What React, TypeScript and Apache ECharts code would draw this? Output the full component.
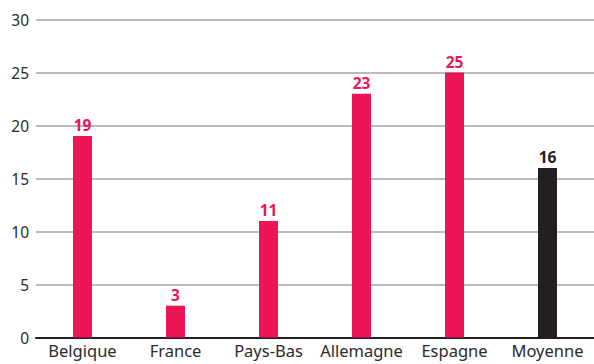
import React, { useEffect, useRef } from "react";
import * as echarts from "echarts";

const categories = ["Belgique", "France", "Pays-Bas", "Allemagne", "Espagne", "Moyenne"];
const values = [19, 3, 11, 23, 25, 16];
const barColors = ["#EE1556", "#EE1556", "#EE1556", "#EE1556", "#EE1556", "#231F20"];
const yTicks = [0, 5, 10, 15, 20, 25, 30];

export default function App() {
  const ref = useRef<HTMLDivElement>(null);
  useEffect(() => {
    if (!ref.current) return;
    const chart = echarts.init(ref.current, null, { renderer: "svg" });
    chart.setOption({
      animation: false,
      grid: { left: 36, width: 564, top: 19.5, bottom: 26.5, containLabel: false },
      xAxis: {
        type: "category",
        data: categories,
        axisLine: { lineStyle: { color: "#231F20", width: 2 } },
        axisTick: { show: false },
        axisLabel: {
          color: "#2a2a2a",
          fontSize: 16.5,
          fontFamily: "Noto Sans",
          margin: 4,
          interval: 0,
          hideOverlap: false,
        },
      },
      yAxis: {
        type: "value",
        min: yTicks[0],
        max: yTicks[yTicks.length - 1],
        interval: 5,
        axisLine: { show: false },
        axisTick: { show: false },
        axisLabel: { color: "#2a2a2a", fontSize: 15.5, fontFamily: "Noto Sans", margin: 7 },
        splitLine: { lineStyle: { color: "#a3a3a3", width: 1.5 } },
      },
      series: [
        {
          type: "bar",
          barWidth: 19,
          data: values.map((v, i) => ({
            value: v,
            itemStyle: { color: barColors[i] },
            label: { color: barColors[i] },
          })),
          label: {
            show: true,
            position: "top",
            distance: 3,
            fontSize: 15.5,
            fontWeight: "bold",
            fontFamily: "Noto Sans",
          },
        },
      ],
    });
    return () => chart.dispose();
  }, []);
  return (
    <div
      ref={ref}
      style={{ position: "absolute", left: 0, top: 0, width: 594, height: 364, overflow: "hidden" }}
    />
  );
}
